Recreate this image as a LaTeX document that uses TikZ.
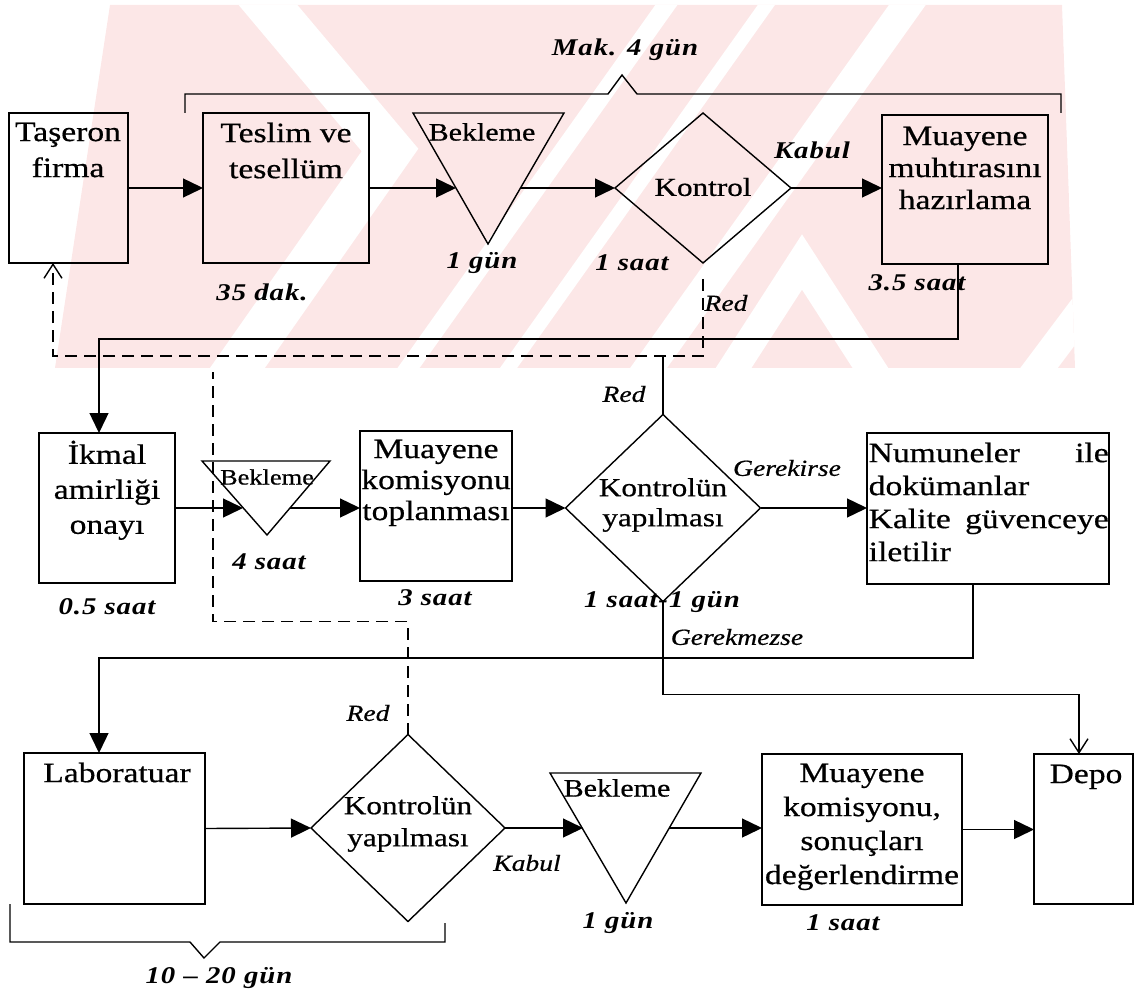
\documentclass[tikz,border=0pt]{standalone}
\usepackage{fontspec}
\setmainfont{Liberation Serif}[FakeStretch=1.2,FakeBold=0.6]
\newfontfamily\labfont{Liberation Serif}[FakeStretch=1.2,LetterSpace=4]
\usetikzlibrary{shapes.geometric,arrows.meta}
\definecolor{wm}{RGB}{252,231,231}
\begin{document}
\begin{tikzpicture}[x=1pt,y=-1pt,line width=1.4pt,
  box/.style={draw,rectangle,inner sep=0pt,outer sep=0pt,anchor=north west},
  dia/.style={draw,diamond,inner sep=0pt,outer sep=0pt},
  txt/.style={inner sep=0pt,anchor=north,align=center},
  ctxt/.style={inner sep=0pt,anchor=center,align=center},
  bl/.style={inner sep=0pt,font=\labfont\bfseries\itshape\fontsize{24}{28}\selectfont},
  il/.style={inner sep=0pt,font=\itshape\fontsize{23}{27}\selectfont},
  arr/.style={-{Triangle[length=20pt,width=19pt]}},
  oarr/.style={-{Straight Barb[length=14pt,width=18pt]}},
  dsh/.style={dash pattern=on 12pt off 7pt}]
\useasboundingbox (0,0) rectangle (1136,995);
% watermark
\begin{scope}
  \clip (110,5) -- (1062,5) -- (1075,368) -- (55,368) -- cycle;
  \fill[wm] (0,0) rectangle (1136,368);
  \draw[white,line width=45pt] (247,-20) -- (390,150) -- (215,400);
  \draw[white,line width=18pt] (677,-10) -- (400,380);
  \draw[white,line width=14pt] (777,-10) -- (500,380);
  \draw[white,line width=30pt] (918,-10) -- (640,380);
  \draw[white,line width=30pt] (700,420) -- (802,262) -- (904,420);
  \draw[white,line width=30pt] (1000,420) -- (1090,300);
\end{scope}
% top row
\node[box,minimum width=119pt,minimum height=150pt] (tas) at (9,113) {};
\node[txt,font=\fontsize{28}{36}\selectfont] (tast) at (68,122) {Taşeron\\firma};
\node[box,minimum width=166pt,minimum height=150pt] (tes) at (203,113) {};
\node[txt,font=\fontsize{28}{36}\selectfont] (test) at (286,122) {Teslim ve\\tesellüm};
\coordinate (b1a) at (413,113); \coordinate (b1b) at (564,113); \coordinate (b1c) at (488,244);
\draw (b1a) -- (b1b) -- (b1c) -- cycle;
\coordinate (b1in) at (456,188); \coordinate (b1out) at (521,188);
\node[ctxt,font=\fontsize{25}{29}\selectfont] (b1t) at (482,132) {Bekleme};
\node[dia,minimum width=176pt,minimum height=150pt] (k1) at (703,188) {};
\node[ctxt,font=\fontsize{26}{30}\selectfont] (k1t) at (703,187) {Kontrol};
\node[box,minimum width=166pt,minimum height=149pt] (muh) at (882,115) {};
\node[txt,font=\fontsize{28}{32}\selectfont] (muht) at (965,126) {Muayene\\muhtırasını\\hazırlama};
% middle row
\node[box,minimum width=136pt,minimum height=150pt] (ikm) at (39,433) {};
\node[txt,font=\fontsize{28}{35}\selectfont] (ikmt) at (107,440) {İkmal\\amirliği\\onayı};
\coordinate (b2a) at (202,461); \coordinate (b2b) at (330,461); \coordinate (b2c) at (267,535);
\draw (b2a) -- (b2b) -- (b2c) -- cycle;
\coordinate (b2in) at (243,508); \coordinate (b2out) at (290,508);
\node[ctxt,font=\fontsize{22}{26}\selectfont] (b2t) at (267,477) {Bekleme};
\node[box,minimum width=152pt,minimum height=150pt] (mk) at (360,431) {};
\node[txt,font=\fontsize{28}{31}\selectfont] (mkt) at (436,439) {Muayene\\komisyonu\\toplanması};
\node[dia,minimum width=195pt,minimum height=187pt] (k2) at (663,508) {};
\node[ctxt,font=\fontsize{26}{30}\selectfont] (k2t) at (663,505) {Kontrolün\\yapılması};
\node[box,minimum width=242pt,minimum height=151pt] (num) at (867,433) {};
\node[inner sep=0pt,anchor=north west,font=\fontsize{28}{33}\selectfont] (numt) at (868,442)
  {\parbox{240pt}{\raggedright Numuneler\hfill ile\\dokümanlar\\Kalite\hfill güvenceye\\iletilir}};
% bottom row
\node[box,minimum width=181pt,minimum height=151pt] (lab) at (24,753) {};
\node[txt,font=\fontsize{28}{34}\selectfont] (labt) at (117,762) {Laboratuar};
\node[dia,minimum width=194pt,minimum height=187pt] (k3) at (408,828) {};
\node[ctxt,font=\fontsize{26}{32}\selectfont] (k3t) at (408,824) {Kontrolün\\yapılması};
\coordinate (b3a) at (550,773); \coordinate (b3b) at (701,773); \coordinate (b3c) at (626,903);
\draw (b3a) -- (b3b) -- (b3c) -- cycle;
\coordinate (b3in) at (583,828); \coordinate (b3out) at (669,828);
\node[ctxt,font=\fontsize{25}{29}\selectfont] (b3t) at (617,788) {Bekleme};
\node[box,minimum width=200pt,minimum height=151pt] (mr) at (762,754) {};
\node[txt,font=\fontsize{28}{34}\selectfont] (mrt) at (862,763) {Muayene\\komisyonu,\\sonuçları\\değerlendirme};
\node[box,minimum width=99pt,minimum height=150pt] (depo) at (1034,754) {};
\node[txt,font=\fontsize{28}{34}\selectfont] (depot) at (1086,764) {Depo};
% connectors
\draw[arr] (tas.east) -- (tes.west);
\draw[arr] (tes.east) -- (b1in);
\draw[arr] (b1out) -- (k1.west);
\draw[arr] (k1.east) -- (k1.east -| muh.west);
\draw[arr] ([xshift=-7pt]muh.south) -- ++(0,75) -| ([xshift=-8pt]ikm.north);
\coordinate (redjoin) at (663,357);
\draw[dsh,oarr] ([yshift=-16pt]k1.south) -- ++(0,77) -| ([xshift=-15.5pt]tas.south);
\draw (k2.north) -- (redjoin);
\draw[arr] (ikm.east) -- (b2in);
\draw[arr] (b2out) -- (b2out -| mk.west);
\draw[arr] (k2.west -| mk.east) -- (k2.west);
\draw[arr] (k2.east) -- (k2.east -| num.west);
\draw[arr] ([xshift=-15pt]num.south) -- ++(0,74) -| ([xshift=-15.5pt]lab.north);
\draw[oarr] (k2.south) -- ++(0,93) -| ([xshift=-4.5pt]depo.north);
\coordinate (dend) at (213,372);
\draw[dsh] (k3.north) -- ++(0,-113) -| (dend);
\draw[arr] (lab.east) -- (k3.west);
\draw[arr] (k3.east) -- (b3in);
\draw[arr] (b3out) -- (b3out -| mr.west);
\draw[arr] (mr.east) -- (mr.east -| depo.west);
% brackets
\draw (185,113) -- (185,94) -- (608,94) -- (622,75) -- (637,94) -- (1061,94) -- (1061,113);
\draw (10,904) -- (10,942) -- (190,942) -- (204,958) -- (220,942) -- (445,942) -- (445,923);
% labels
\node[bl] (l1) at (625,50) {Mak. 4 gün};
\node[bl] (l2) at (262,292) {35 dak.};
\node[bl] (l3) at (482,263) {1 gün};
\node[bl] (l4) at (632,263) {1 saat};
\node[bl] (l5) at (812,150) {Kabul};
\node[bl] (l6) at (917,283) {3.5 saat};
\node[il] (l7) at (726,303) {Red};
\node[il] (l8) at (624,394) {Red};
\node[bl] (l9) at (107,607) {0.5 saat};
\node[bl] (l10) at (269,562) {4 saat};
\node[bl] (l11) at (435,598) {3 saat};
\node[il] (l12) at (787,468) {Gerekirse};
\node[bl] (l13) at (662,602) {1 saat-1 gün};
\node[il] (l14) at (737,637) {Gerekmezse};
\node[il] (l15) at (368,713) {Red};
\node[il] (l16) at (527,863) {Kabul};
\node[bl] (l17) at (618,923) {1 gün};
\node[bl] (l18) at (843,923) {1 saat};
\node[bl] (l19) at (219,978) {10 – 20 gün};
\end{tikzpicture}
\end{document}
